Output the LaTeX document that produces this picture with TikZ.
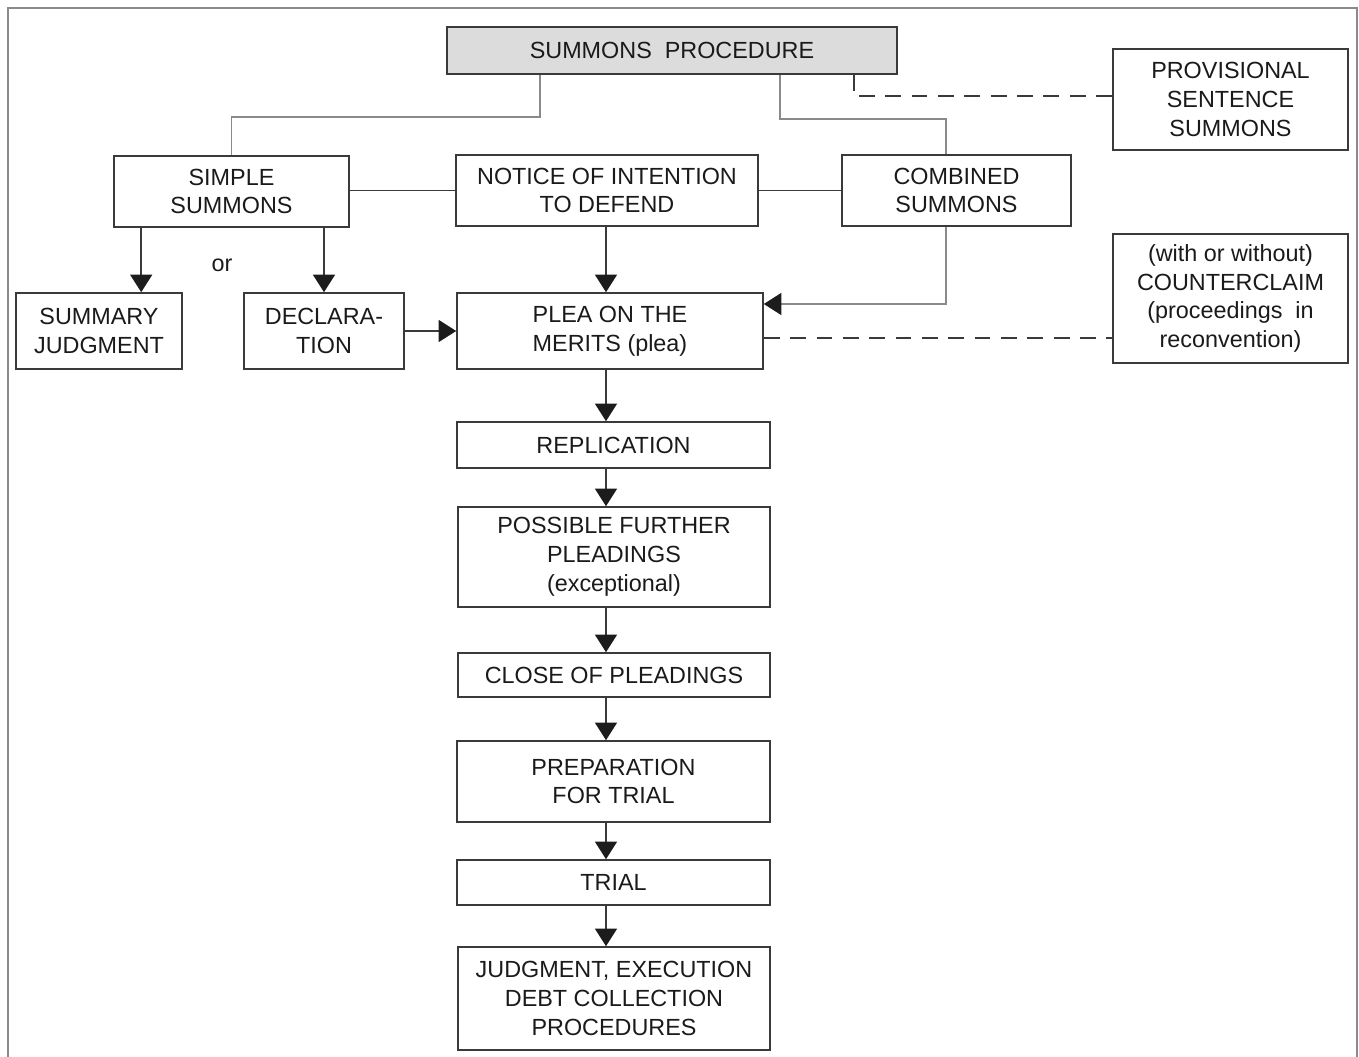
\documentclass[tikz,border=0pt]{standalone}
\usepackage{fontspec}
\setmainfont{Liberation Sans}
\usepackage{tikz}
\usetikzlibrary{arrows.meta, positioning}

\definecolor{boxline}{HTML}{3A3A3A}
\definecolor{linkgray}{HTML}{8A8A8A}
\definecolor{procfill}{HTML}{DCDCDC}
\definecolor{txt}{HTML}{1A1A1A}
\definecolor{tipcol}{HTML}{1C1C1C}

\tikzset{
  box/.style={draw=boxline, line width=0.9pt, align=center, inner sep=0pt,
              text=txt, font=\fontsize{13.3}{16.4}\selectfont},
  arr/.style={draw=boxline, line width=0.9pt, -{Triangle[width=12.5pt,length=10pt,color=tipcol]}},
  line/.style={draw=boxline, line width=0.9pt},
  greyline/.style={draw=linkgray, line width=1pt},
  dashline/.style={draw=boxline, line width=0.8pt, dash pattern=on 9pt off 6pt}
}

\begin{document}
\begin{tikzpicture}
            \useasboundingbox (0,0) rectangle (27.18,-21.14);
            \draw[linkgray, line width=0.8pt] (0.16,-21.14) -- (0.16,-0.16) -- (27.14,-0.16) -- (27.14,-21.14);
            % top row
            \node[box, fill=procfill, minimum width=9cm, minimum height=0.94cm] (proc) at (13.44,-1.01) {SUMMONS\ \ PROCEDURE};
            \node[box, minimum width=4.7cm, minimum height=2.02cm] (prov) at (24.61,-1.99) {PROVISIONAL\\SENTENCE\\SUMMONS};
            % summons types
            \node[box, minimum width=4.7cm, minimum height=1.42cm] (simple) at (4.63,-3.83) {SIMPLE\\SUMMONS};
            \node[box, minimum width=6.04cm, minimum height=1.42cm] (notice) at (12.14,-3.81) {NOTICE\ OF\ INTENTION\\TO\ DEFEND};
            \node[box, minimum width=4.58cm, minimum height=1.42cm] (combined) at (19.13,-3.81) {COMBINED\\SUMMONS};
            \node[box, minimum width=4.7cm, minimum height=2.58cm] (counter) at (24.61,-5.97) {(with\ or\ without)\\COUNTERCLAIM\\(proceedings\ \ in\\reconvention)};
            % second row
            \node[box, minimum width=3.32cm, minimum height=1.52cm] (summary) at (1.98,-6.62) {SUMMARY\\JUDGMENT};
            \node[box, minimum width=3.2cm, minimum height=1.52cm] (decl) at (6.48,-6.62) {DECLARA-\\TION};
            \node[box, minimum width=6.12cm, minimum height=1.52cm] (plea) at (12.2,-6.62) {PLEA\ ON\ THE\\MERITS\ (plea)};
            \node[box, draw=none] (or) at (4.44,-5.3) {or};
            % main column
            \node[box, minimum width=6.26cm, minimum height=0.92cm] (repl) at (12.27,-8.9) {REPLICATION};
            \node[box, minimum width=6.24cm, minimum height=2.0cm] (further) at (12.28,-11.14) {POSSIBLE\ FURTHER\\PLEADINGS\\(exceptional)};
            \node[box, minimum width=6.24cm, minimum height=0.88cm] (close) at (12.28,-13.5) {CLOSE\ OF\ PLEADINGS};
            \node[box, minimum width=6.26cm, minimum height=1.62cm] (prep) at (12.27,-15.63) {PREPARATION\\FOR\ TRIAL};
            \node[box, minimum width=6.26cm, minimum height=0.9cm] (trial) at (12.27,-17.65) {TRIAL};
            \node[box, minimum width=6.24cm, minimum height=2.06cm] (judg) at (12.28,-19.97) {JUDGMENT,\ EXECUTION\\DEBT\ COLLECTION\\PROCEDURES};
            \coordinate (col) at (12.12,0);
            % links from the summons procedure
            \draw[greyline] ([xshift=1.88cm]proc.south west) -- ++(0,-0.84) -| (simple.north);
            \draw[greyline] ([xshift=-2.36cm]proc.south east) -- ++(0,-0.88) -| ([xshift=-0.21cm]combined.north);
            \draw[dashline] ([xshift=-0.88cm]proc.south east) |- ([yshift=0.07cm]prov.west);
            \draw[line] (simple.east |- notice.west) -- (notice.west);
            \draw[line] (notice.east) -- (combined.west);
            % arrows
            \draw[arr] ([xshift=0.56cm]simple.south west) -- ([xshift=0.56cm]simple.south west |- summary.north);
            \draw[arr] (simple.south -| decl.north) -- (decl.north);
            \draw[arr] (notice.south -| col) -- (plea.north -| col);
            \draw[arr, draw=linkgray] ([xshift=-0.21cm]combined.south) |- ([yshift=0.54cm]plea.east);
            \draw[arr] (decl.east) -- (plea.west);
            \draw[dashline] ([yshift=-0.14cm]plea.east) -- ([yshift=-0.14cm]plea.east -| counter.west);
            \draw[arr] (plea.south -| col) -- (repl.north -| col);
            \draw[arr] (repl.south -| col) -- (further.north -| col);
            \draw[arr] (further.south -| col) -- (close.north -| col);
            \draw[arr] (close.south -| col) -- (prep.north -| col);
            \draw[arr] (prep.south -| col) -- (trial.north -| col);
            \draw[arr] (trial.south -| col) -- (judg.north -| col);
        \end{tikzpicture}
\end{document}
